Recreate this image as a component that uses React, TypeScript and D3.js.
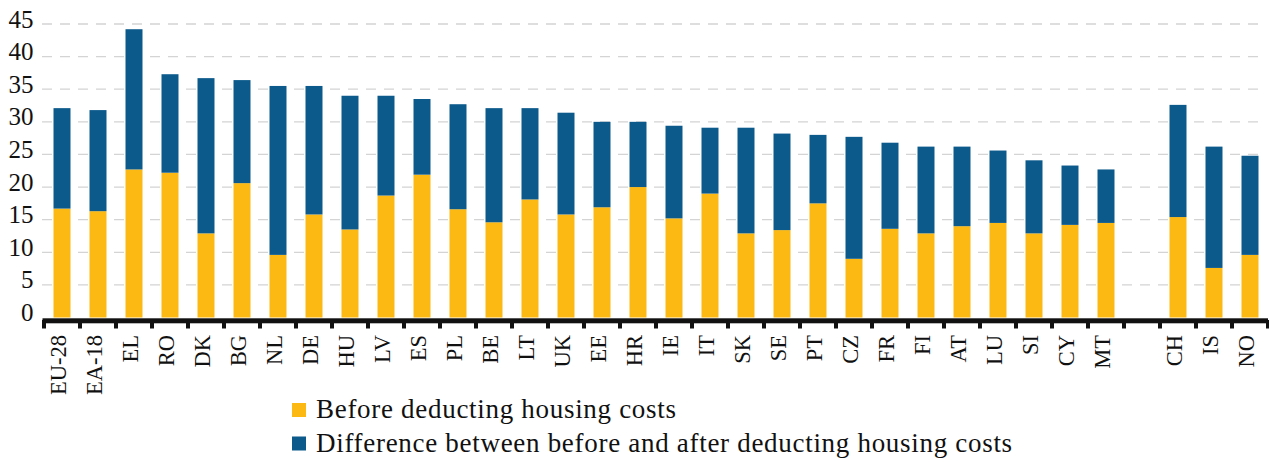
import React, { useEffect, useRef } from "react";
import * as d3 from "d3";

const categories = ["EU-28","EA-18","EL","RO","DK","BG","NL","DE","HU","LV","ES","PL","BE","LT","UK","EE","HR","IE","IT","SK","SE","PT","CZ","FR","FI","AT","LU","SI","CY","MT","CH","IS","NO"];
const beforeHousing = [16.7,16.3,22.7,22.2,12.9,20.6,9.6,15.8,13.5,18.7,21.9,16.6,14.6,18.1,15.8,16.9,20.0,15.2,19.0,12.9,13.4,17.5,9.0,13.6,12.9,14.0,14.5,12.9,14.2,14.5,15.4,7.6,9.6];
const differenceHousing = [15.4,15.5,21.5,15.1,23.8,15.8,25.9,19.7,20.5,15.3,11.6,16.1,17.5,14.0,15.6,13.1,10.0,14.2,10.1,16.2,14.8,10.5,18.7,13.2,13.3,12.2,11.1,11.2,9.1,8.2,17.2,18.6,15.2];
const gapBefore = "CH";
const yTicks = [0,5,10,15,20,25,30,35,40,45];
const seriesNames = ["Before deducting housing costs","Difference between before and after deducting housing costs"];
const seriesColors = ["#FDB913", "#0C5A8C"];

const W = 1269, H = 462;
const FONT = "'Liberation Serif', 'Times New Roman', serif";

export default function App() {
  const ref = useRef<SVGSVGElement>(null);
  useEffect(() => {
    const svg = d3.select(ref.current);
    svg.selectAll("*").remove();

    const slots: string[] = [];
    categories.forEach((c) => { if (c === gapBefore) slots.push("__gap__"); slots.push(c); });

    const x = d3.scaleBand<string>().domain(slots).range([44, 1268]).paddingInner(0.528).paddingOuter(0.264);
    const y = d3.scaleLinear().domain([0, 45]).range([317.5, 24]);

    const rows = categories.map((c, i) => ({ cat: c, before: beforeHousing[i], diff: differenceHousing[i] }));
    const stack = d3.stack<any>().keys(["before", "diff"]);
    const layers = stack(rows);

    // gridlines
    svg.append("g").selectAll("line").data(yTicks.filter(t => t > 0)).join("line")
      .attr("x1", 42).attr("x2", 1258)
      .attr("y1", d => y(d)).attr("y2", d => y(d))
      .attr("stroke", "#d4d4d4").attr("stroke-width", 1.3).attr("stroke-dasharray", "10,8");

    // y labels
    svg.append("g").selectAll("text").data(yTicks).join("text")
      .attr("x", 33.5).attr("y", d => y(d) + 3.5)
      .attr("text-anchor", "end")
      .attr("font-family", FONT).attr("font-size", 25).attr("fill", "#111")
      .text(d => String(d));

    // bars
    layers.forEach((layer, li) => {
      svg.append("g").selectAll("rect").data(layer).join("rect")
        .attr("x", (d: any) => x(d.data.cat) as number)
        .attr("width", x.bandwidth())
        .attr("y", (d: any) => y(d[1]))
        .attr("height", (d: any) => y(d[0]) - y(d[1]))
        .attr("fill", seriesColors[li]);
    });

    // axis line
    const step = x.step();
    svg.append("rect").attr("x", 42.5).attr("y", 318.3).attr("width", 1268 - 42.5).attr("height", 5).attr("fill", "#111");
    const tickPos = d3.range(slots.length + 1).map(k => 44 + k * step);
    svg.append("g").selectAll("rect").data(tickPos).join("rect")
      .attr("x", d => d - 2).attr("y", 320).attr("width", 4).attr("height", 8.5).attr("fill", "#111");

    // x labels
    svg.append("g").selectAll("text").data(categories).join("text")
      .attr("transform", d => `translate(${(x(d) as number) + x.bandwidth() / 2 + 3.5},335) rotate(-90)`)
      .attr("text-anchor", "end")
      .attr("font-family", FONT).attr("font-size", 22.5).attr("fill", "#111")
      .text(d => d);

    // legend
    const lg = svg.append("g");
    seriesNames.forEach((name, i) => {
      const by = 418 + i * 33.5;
      lg.append("rect").attr("x", 292).attr("y", by - 15).attr("width", 14).attr("height", 14).attr("fill", seriesColors[i]);
      lg.append("text").attr("x", 316).attr("y", by)
        .attr("font-family", FONT).attr("font-size", 27).attr("letter-spacing", 0.7).attr("fill", "#111")
        .text(name);
    });
  }, []);
  return (
    <svg ref={ref} width={W} height={H} style={{ position: "absolute", left: 0, top: 0, background: "#fff" }} />
  );
}
